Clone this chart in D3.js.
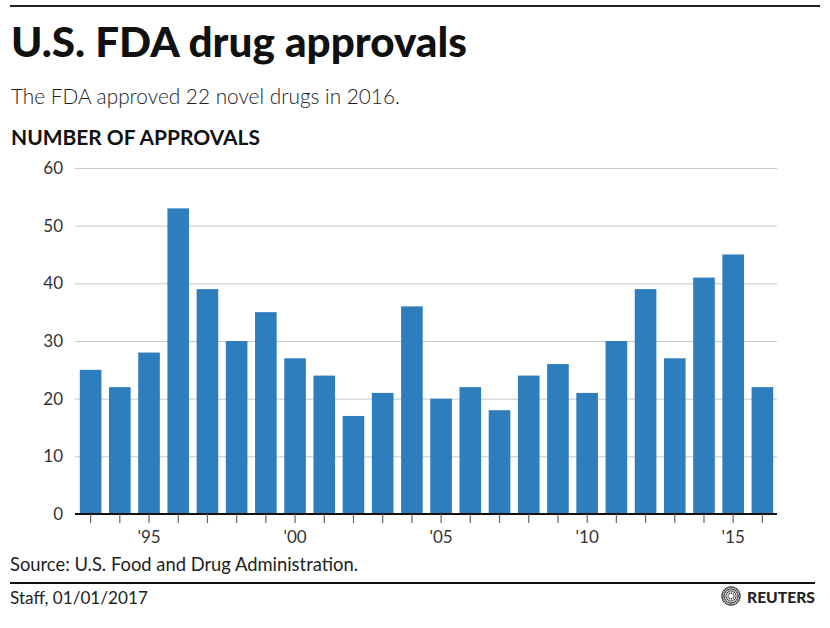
<!DOCTYPE html>
<html><head><meta charset="utf-8">
<script src="https://cdn.jsdelivr.net/npm/d3@7"></script>
<style>body{margin:0;background:#fff}svg{display:block}text{font-family:Lato,"Open Sans",sans-serif}</style>
</head><body>
<svg id="c" width="830" height="628"></svg>
<script>
const years = [1993,1994,1995,1996,1997,1998,1999,2000,2001,2002,2003,2004,2005,2006,2007,2008,2009,2010,2011,2012,2013,2014,2015,2016];
const approvals = [25,22,28,53,39,30,35,27,24,17,21,36,20,22,18,24,26,21,30,39,27,41,45,22];
const yTicks = [0,10,20,30,40,50,60];
const labeledYears = [1995,2000,2005,2010,2015];

const svg = d3.select("#c");
const m = {left:76, right:777, top:168, bottom:514};

function fit(sel, target){
  const fs = +sel.attr("font-size");
  const w = sel.node().getComputedTextLength();
  if (w>0) sel.attr("font-size", (fs*target/w).toFixed(2));
  return sel;
}

svg.append("line").attr("x1",10).attr("x2",820).attr("y1",6).attr("y2",6).attr("stroke","#222").attr("stroke-width",2);
fit(svg.append("text").attr("x",11).attr("y",57).attr("font-size",39).attr("font-weight",900).attr("fill","#111").text("U.S. FDA drug approvals"), 456);
fit(svg.append("text").attr("x",11).attr("y",104).attr("font-size",20).attr("font-weight",300).attr("fill","#222").text("The FDA approved 22 novel drugs in 2016."), 389);
fit(svg.append("text").attr("x",11).attr("y",145).attr("font-size",19).attr("font-weight",700).attr("fill","#111").text("NUMBER OF APPROVALS"), 249);

const x = d3.scaleBand().domain(years).range([m.left, m.right]).paddingInner(0.26).paddingOuter(0.13);
const y = d3.scaleLinear().domain([0,60]).range([m.bottom, m.top]);

const gy = svg.append("g").attr("transform",`translate(${m.left-1},0)`)
  .call(d3.axisLeft(y).tickValues(yTicks).tickSize(-(m.right-m.left+1)).tickPadding(12));
gy.select(".domain").remove();
gy.selectAll(".tick line").attr("stroke","#c8c8c8").attr("stroke-width",1);
gy.selectAll(".tick text").attr("font-size",17).attr("fill","#333").attr("font-family","Lato,sans-serif").attr("font-weight",400);

svg.append("g").selectAll("rect").data(years).join("rect")
  .attr("x",d=>x(d)).attr("width",x.bandwidth())
  .attr("y",(d,i)=>y(approvals[i])).attr("height",(d,i)=>y(0)-y(approvals[i]))
  .attr("fill","#2e7dbd");

const gx = svg.append("g").attr("transform",`translate(0,${m.bottom})`)
  .call(d3.axisBottom(x).tickValues(years).tickSize(9).tickPadding(8).tickSizeOuter(0)
    .tickFormat(d=>labeledYears.includes(d)?"'"+String(d).slice(2):""));
gx.select(".domain").attr("stroke","#111").attr("stroke-width",2).attr("d",`M${m.left-1},0H${m.right}`);
gx.selectAll(".tick line").attr("stroke","#666").attr("stroke-width",1.2);
gx.selectAll(".tick text").attr("font-size",17).attr("fill","#333").attr("font-family","Lato,sans-serif");

fit(svg.append("text").attr("x",10).attr("y",571).attr("font-size",17).attr("fill","#222").text("Source: U.S. Food and Drug Administration."), 348);
svg.append("line").attr("x1",10).attr("x2",815).attr("y1",583).attr("y2",583).attr("stroke","#111").attr("stroke-width",2);
fit(svg.append("text").attr("x",10).attr("y",604).attr("font-size",17).attr("fill","#222").text("Staff,  01/01/2017"), 138);

// Reuters logo
const lg = svg.append("g").attr("transform","translate(731,596)");
const rings = [{r:9,n:28},{r:7,n:22},{r:5,n:16},{r:3,n:9}];
rings.forEach(rg=>{
  lg.selectAll(null).data(d3.range(rg.n)).join("circle")
    .attr("cx",i=>rg.r*Math.cos(i/rg.n*2*Math.PI)).attr("cy",i=>rg.r*Math.sin(i/rg.n*2*Math.PI))
    .attr("r",rg.r>6?0.9:0.8).attr("fill","#333");
});
fit(svg.append("text").attr("x",747).attr("y",603).attr("font-size",18).attr("font-weight",900).attr("fill","#222").text("REUTERS"), 68);
</script>
</body></html>
